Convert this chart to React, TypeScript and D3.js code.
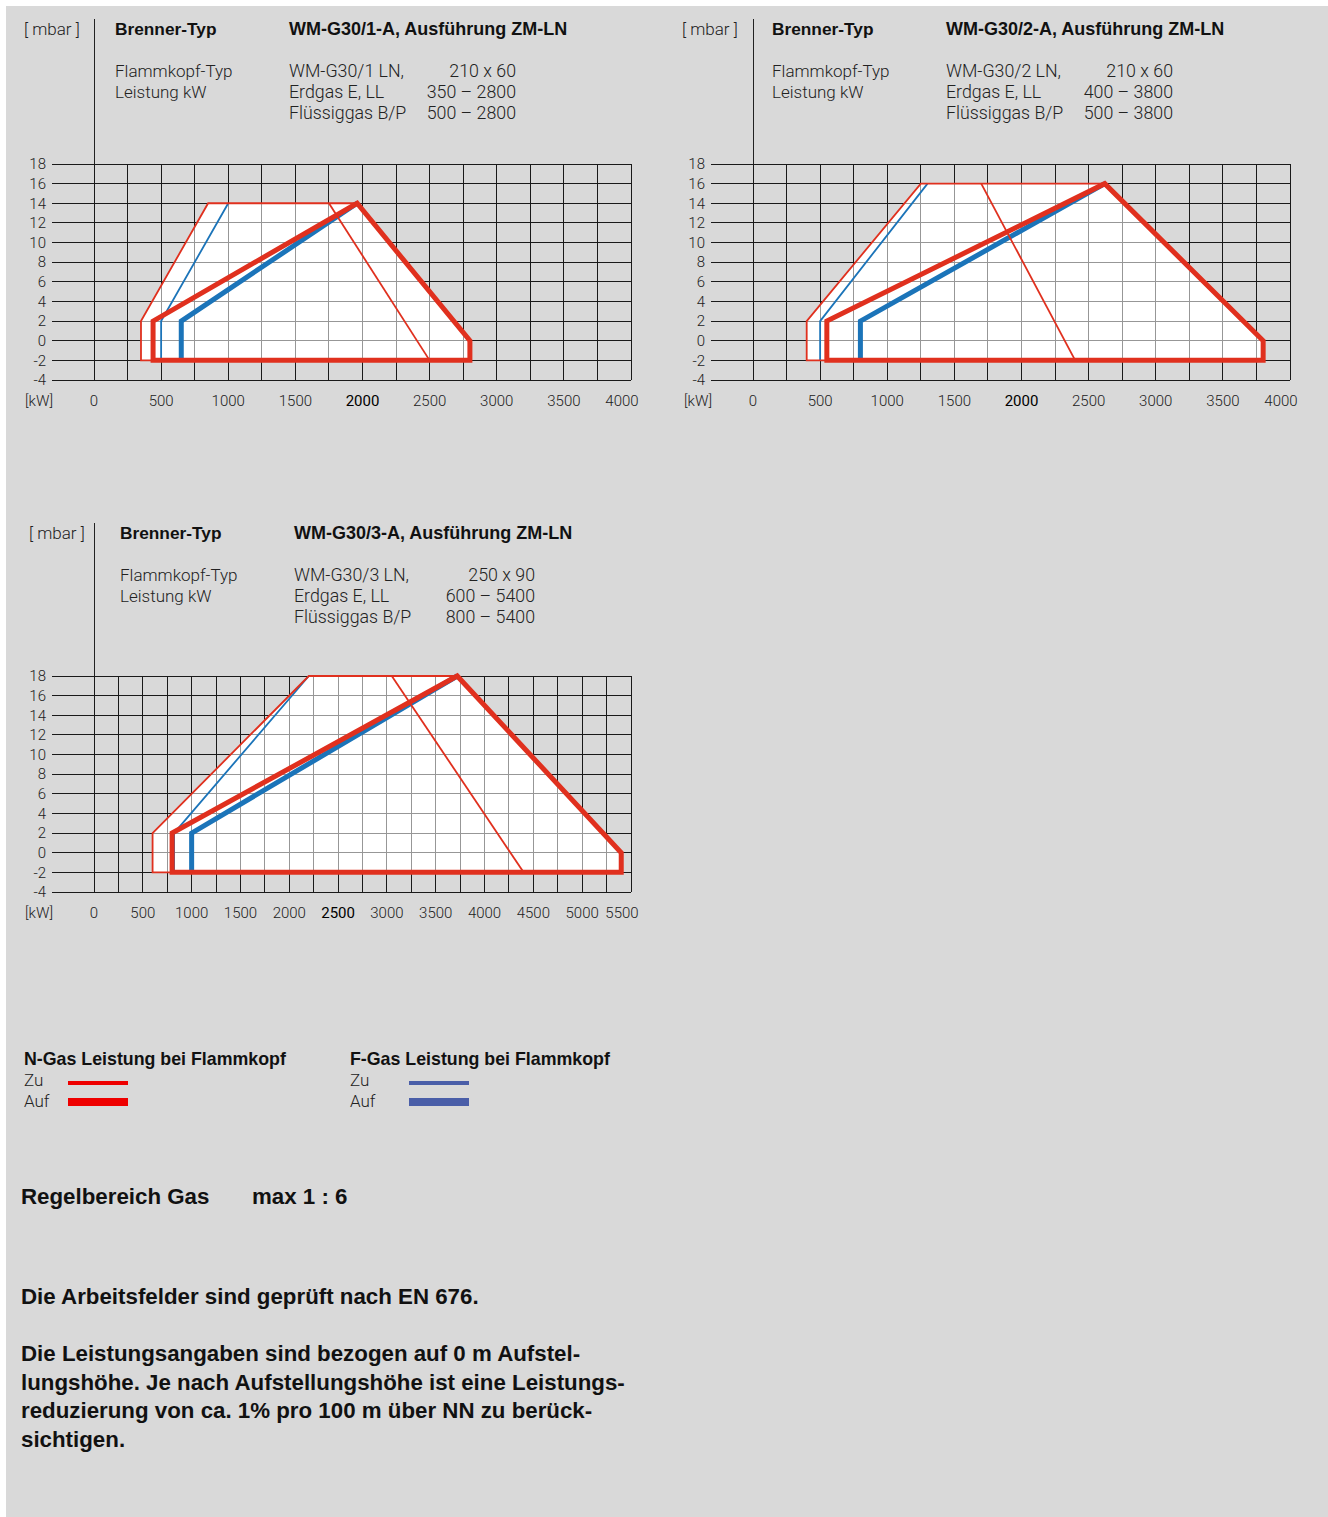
import * as d3 from "d3";

type Pt = [number, number];

const FONT = "Roboto, 'Liberation Sans', Arial, sans-serif";
const BOLD_FONT = "'Liberation Sans', Arial, Helvetica, sans-serif";
const RED = "#e0301e";
const BLUE = "#1b74b9";
const LEG_RED = "#ee0000";
const LEG_BLUE = "#4a5ea8";

// y axis (mbar) is the same for all three fields
const yTicks = [18, 16, 14, 12, 10, 8, 6, 4, 2, 0, -2, -4];
const xTicks4000 = [0, 500, 1000, 1500, 2000, 2500, 3000, 3500, 4000];
const xTicks5500 = [0, 500, 1000, 1500, 2000, 2500, 3000, 3500, 4000, 4500, 5000, 5500];

// WM-G30/1
const field1: Pt[] = [[350, -2], [350, 2], [850, 14], [1960, 14], [2800, 0], [2800, -2]];
const nZuDiag1: Pt[] = [[1750, 14], [2500, -2]];
const nAuf1: Pt[] = [[440, -2], [440, 2], [1960, 14], [2800, 0], [2800, -2]];
const fZu1: Pt[] = [[500, -2], [500, 2], [1000, 14]];
const fAuf1: Pt[] = [[650, -2], [650, 2], [1960, 14]];

// WM-G30/2
const field2: Pt[] = [[400, -2], [400, 2], [1250, 16], [2620, 16], [3800, 0], [3800, -2]];
const nZuDiag2: Pt[] = [[1700, 16], [2400, -2]];
const nAuf2: Pt[] = [[550, -2], [550, 2], [2620, 16], [3800, 0], [3800, -2]];
const fZu2: Pt[] = [[500, -2], [500, 2], [1300, 16]];
const fAuf2: Pt[] = [[800, -2], [800, 2], [2620, 16]];

// WM-G30/3
const field3: Pt[] = [[600, -2], [600, 2], [2200, 18], [3720, 18], [5400, 0], [5400, -2]];
const nZuDiag3: Pt[] = [[3050, 18], [4400, -2]];
const nAuf3: Pt[] = [[800, -2], [800, 2], [3720, 18], [5400, 0], [5400, -2]];
const fZu3: Pt[] = [[820, -2], [820, 2], [2200, 18]];
const fAuf3: Pt[] = [[1000, -2], [1000, 2], [3720, 18]];

const headerRows1 = [
  ["WM-G30/1 LN,", "210 x 60"],
  ["Erdgas E, LL", "350 – 2800"],
  ["Flüssiggas B/P", "500 – 2800"],
];
const headerRows2 = [
  ["WM-G30/2 LN,", "210 x 60"],
  ["Erdgas E, LL", "400 – 3800"],
  ["Flüssiggas B/P", "500 – 3800"],
];
const headerRows3 = [
  ["WM-G30/3 LN,", "250 x 90"],
  ["Erdgas E, LL", "600 – 5400"],
  ["Flüssiggas B/P", "800 – 5400"],
];

const paragraph = [
  "Die Leistungsangaben sind bezogen auf 0 m Aufstel-",
  "lungshöhe. Je nach Aufstellungshöhe ist eine Leistungs-",
  "reduzierung von ca. 1% pro 100 m über NN zu berück-",
  "sichtigen.",
];

interface PanelSpec {
  title: string;
  rows: string[][];
  xTicks: number[];
  strongTick: number;
  field: Pt[];
  zuDiag: Pt[];
  auf: Pt[];
  fZu: Pt[];
  fAuf: Pt[];
  px: number; // x of 0 kW
  py: number; // y of 18 mbar
  hx: number; // header left
  hy: number; // header baseline
  mbarX: number;
  valueRight: number;
}

const PLOT_W = 537;
const PLOT_H = 216;

function Panel({ s }: { s: PanelSpec }) {
  const xMax = s.xTicks[s.xTicks.length - 1];
  const x = d3.scaleLinear().domain([0, xMax]).range([s.px, s.px + PLOT_W]);
  const y = d3.scaleLinear().domain([-4, 18]).range([s.py + PLOT_H, s.py]);
  const line = d3.line<Pt>().x((d) => x(d[0])).y((d) => y(d[1]));
  const gridX = d3.range(0, xMax + 1, 250);
  const gridY = d3.range(-4, 19, 2);
  const left = s.px - 42;

  return (
    <g>
      {/* header */}
      <text x={s.mbarX} y={s.hy} fontSize={17} fontWeight={300} fill="#222">[ mbar ]</text>
      <text x={s.hx} y={s.hy} fontSize={17.3} fontWeight={700} fill="#111" fontFamily={BOLD_FONT}>Brenner-Typ</text>
      <text x={s.hx + 174} y={s.hy} fontSize={18} fontWeight={700} fill="#111" fontFamily={BOLD_FONT}>{s.title}</text>
      <text x={s.hx} y={s.hy + 42} fontSize={17} fontWeight={300} fill="#222">Flammkopf-Typ</text>
      <text x={s.hx} y={s.hy + 63} fontSize={17} fontWeight={300} fill="#222">Leistung kW</text>
      {s.rows.map((r, i) => (
        <g key={i}>
          <text x={s.hx + 174} y={s.hy + 42 + i * 21} fontSize={17.8} fontWeight={300} fill="#222">{r[0]}</text>
          <text x={s.valueRight} y={s.hy + 42 + i * 21} fontSize={17.8} fontWeight={300} fill="#222" textAnchor="end">{r[1]}</text>
        </g>
      ))}
      <line x1={x(0)} x2={x(0)} y1={s.hy - 16} y2={y(-4)} stroke="#222" strokeWidth={1} shapeRendering="crispEdges" />

      {/* working field background */}
      <path d={line(s.field) + "Z"} fill="#fff" />

      {/* grid */}
      {gridX.map((v) => (
        <line key={"gx" + v} x1={x(v)} x2={x(v)} y1={y(18)} y2={y(-4)} stroke="#1a1a1a" strokeWidth={1} shapeRendering="crispEdges" />
      ))}
      {gridY.map((v) => (
        <line key={"gy" + v} x1={left} x2={x(xMax)} y1={y(v)} y2={y(v)} stroke="#1a1a1a" strokeWidth={1} shapeRendering="crispEdges" />
      ))}
      <path d={line(s.field) + "Z"} fill="#fff" fillOpacity={0.55} />

      {/* F-Gas */}
      <path d={line(s.fZu) ?? ""} fill="none" stroke={BLUE} strokeWidth={1.8} />
      <path d={line(s.fAuf) ?? ""} fill="none" stroke={BLUE} strokeWidth={5} strokeLinejoin="miter" />

      {/* N-Gas */}
      <path d={line(s.field) + "Z"} fill="none" stroke={RED} strokeWidth={1.8} strokeLinejoin="miter" />
      <path d={line(s.zuDiag) ?? ""} fill="none" stroke={RED} strokeWidth={1.8} />
      <path d={line(s.auf) + "Z"} fill="none" stroke={RED} strokeWidth={5} strokeLinejoin="miter" />

      {/* tick labels */}
      {yTicks.map((v) => (
        <text key={"yt" + v} x={left - 6} y={y(v)} dy="0.35em" fontSize={15} fontWeight={300} fill="#222" textAnchor="end">
          {v}
        </text>
      ))}
      {s.xTicks.map((v) => (
        <text
          key={"xt" + v}
          x={v === xMax ? x(v) - 9 : x(v)}
          y={y(-4) + 21}
          dy="0.35em"
          fontSize={15}
          fontWeight={v === s.strongTick ? 400 : 300}
          fill={v === s.strongTick ? "#000" : "#222"}
          textAnchor="middle"
        >
          {v}
        </text>
      ))}
      <text x={left - 27} y={y(-4) + 21} dy="0.35em" fontSize={15} fontWeight={300} fill="#222">[kW]</text>
    </g>
  );
}

const panels: PanelSpec[] = [
  {
    title: "WM-G30/1-A, Ausführung ZM-LN",
    rows: headerRows1,
    xTicks: xTicks4000,
    strongTick: 2000,
    field: field1,
    zuDiag: nZuDiag1,
    auf: nAuf1,
    fZu: fZu1,
    fAuf: fAuf1,
    px: 94,
    py: 164,
    hx: 115,
    hy: 35,
    mbarX: 24,
    valueRight: 516,
  },
  {
    title: "WM-G30/2-A, Ausführung ZM-LN",
    rows: headerRows2,
    xTicks: xTicks4000,
    strongTick: 2000,
    field: field2,
    zuDiag: nZuDiag2,
    auf: nAuf2,
    fZu: fZu2,
    fAuf: fAuf2,
    px: 753,
    py: 164,
    hx: 772,
    hy: 35,
    mbarX: 682,
    valueRight: 1173,
  },
  {
    title: "WM-G30/3-A, Ausführung ZM-LN",
    rows: headerRows3,
    xTicks: xTicks5500,
    strongTick: 2500,
    field: field3,
    zuDiag: nZuDiag3,
    auf: nAuf3,
    fZu: fZu3,
    fAuf: fAuf3,
    px: 94,
    py: 676,
    hx: 120,
    hy: 539,
    mbarX: 29,
    valueRight: 535,
  },
];

function Legend({ x0, lineX, title, color }: { x0: number; lineX: number; title: string; color: string }) {
  return (
    <g>
      <text x={x0} y={1065} fontSize={17.8} fontWeight={700} fill="#111" fontFamily={BOLD_FONT}>{title}</text>
      <text x={x0} y={1086} fontSize={17} fontWeight={300} fill="#222">Zu</text>
      <text x={x0} y={1107} fontSize={17} fontWeight={300} fill="#222">Auf</text>
      <line x1={lineX} x2={lineX + 60} y1={1083} y2={1083} stroke={color} strokeWidth={4} />
      <line x1={lineX} x2={lineX + 60} y1={1102} y2={1102} stroke={color} strokeWidth={8} />
    </g>
  );
}

export default function App() {
  return (
    <div style={{ position: "absolute", left: 0, top: 0 }}>
      <svg width={1328} height={1517} style={{ display: "block", fontFamily: FONT }}>
        <rect x={0} y={0} width={1328} height={1517} fill="#fff" />
        <rect x={6} y={6} width={1322} height={1511} fill="#d9d9d9" />
        {panels.map((p, i) => (
          <Panel key={i} s={p} />
        ))}
        <Legend x0={24} lineX={68} title="N-Gas Leistung bei Flammkopf" color={LEG_RED} />
        <Legend x0={350} lineX={409} title="F-Gas Leistung bei Flammkopf" color={LEG_BLUE} />

        <g fontFamily={BOLD_FONT} fontSize={22.3} fontWeight={700} fill="#111">
          <text x={21} y={1204}>Regelbereich Gas</text>
          <text x={252} y={1204}>max 1 : 6</text>
          <text x={21} y={1304}>Die Arbeitsfelder sind geprüft nach EN 676.</text>
          {paragraph.map((t, i) => (
            <text key={i} x={21} y={1361 + i * 28.5}>
              {t}
            </text>
          ))}
        </g>
      </svg>
    </div>
  );
}
